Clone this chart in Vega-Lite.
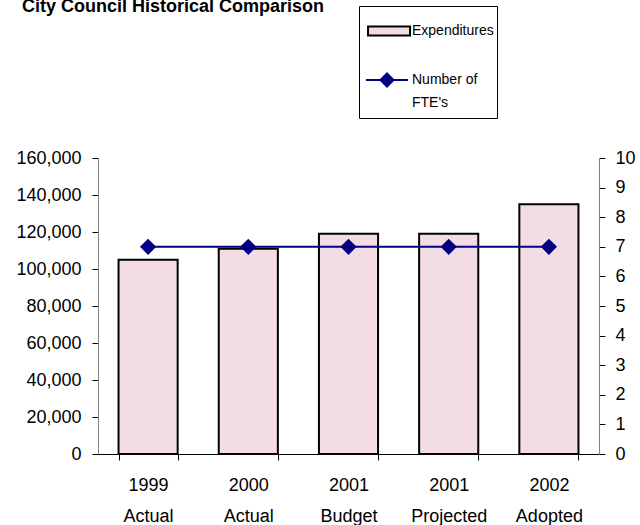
{
  "$schema": "https://vega.github.io/schema/vega-lite/v6.json",
  "autosize": "none",
  "width": 501,
  "height": 296,
  "padding": {"left": 98, "top": 158, "right": 41, "bottom": 71},
  "background": "white",
  "title": {
    "text": "City Council Historical Comparison",
    "anchor": "start",
    "frame": "group",
    "font": "Liberation Sans",
    "fontSize": 18,
    "fontWeight": "bold",
    "color": "black",
    "baseline": "alphabetic",
    "offset": -24,
    "dx": -76
  },
  "config": {
    "view": {"stroke": null},
    "font": "Liberation Sans",
    "style": {"guide-label": {"lineHeight": 23}},
    "axis": {
      "labelFont": "Liberation Sans",
      "labelFontSize": 18,
      "labelColor": "black",
      "tickColor": "black",
      "tickSize": 6,
      "grid": false,
      "title": null
    },
    "legend": {
      "labelFont": "Liberation Sans",
      "labelFontSize": 14,
      "labelColor": "black",
      "labelLimit": 200
    }
  },
  "data": {
    "values": [
      {"cat": "1999 Actual", "exp": 105000, "fte": 7},
      {"cat": "2000 Actual", "exp": 111000, "fte": 7},
      {"cat": "2001 Budget", "exp": 119000, "fte": 7},
      {"cat": "2001 Projected", "exp": 119000, "fte": 7},
      {"cat": "2002 Adopted", "exp": 135000, "fte": 7}
    ]
  },
  "encoding": {
    "x": {
      "field": "cat",
      "type": "nominal",
      "sort": null,
      "scale": {"paddingInner": 0.41, "paddingOuter": 0.205},
      "axis": {
        "labelAngle": 0,
        "tickBand": "extent",
        "labelExpr": "split(datum.label, ' ')",
        "labelLineHeight": 31,
        "labelPadding": 16,
        "domainColor": "black"
      }
    }
  },
  "layer": [
    {
      "mark": {"type": "bar", "stroke": "black", "strokeWidth": 2},
      "encoding": {
        "y": {
          "field": "exp",
          "type": "quantitative",
          "scale": {"domain": [0, 160000], "nice": false},
          "axis": {
            "values": [0, 20000, 40000, 60000, 80000, 100000, 120000, 140000, 160000],
            "format": ",d",
            "domainColor": "#808080",
            "labelPadding": 11,
            "orient": "left"
          }
        },
        "fill": {
          "datum": "Expenditures",
          "type": "nominal",
          "scale": {"range": ["#f3dce6"]},
          "legend": {
            "title": "\u00a0\u00a0\u00a0\u00a0\u00a0\u00a0\u00a0\u00a0\u00a0\u00a0\u00a0\u00a0\u00a0\u00a0\u00a0",
            "titleOrient": "bottom",
            "titleFontSize": 36,
            "titlePadding": 40,
            "titleLimit": 500,
            "orient": "none",
            "legendX": 261,
            "legendY": -152,
            "padding": 3,
            "strokeColor": "black",
            "fillColor": "white",
            "symbolType": "M-0.76,-0.22H1.24V0.22H-0.76Z",
            "symbolSize": 1764,
            "symbolStrokeColor": "black",
            "symbolStrokeWidth": 2,
            "labelOffset": 6
          }
        }
      }
    },
    {
      "encoding": {
        "y": {
          "field": "fte",
          "type": "quantitative",
          "scale": {"domain": [0, 10], "nice": false},
          "axis": {
            "orient": "right",
            "values": [0, 1, 2, 3, 4, 5, 6, 7, 8, 9, 10],
            "domainColor": "#808080",
            "labelPadding": 10
          }
        },
        "stroke": {
          "datum": "Number of FTE's",
          "type": "nominal",
          "scale": {"range": ["#000080"]},
          "legend": {
            "title": null,
            "orient": "none",
            "legendX": 267,
            "legendY": -100,
            "padding": 0,
            "symbolType": "M-1,0H1M0,-0.31L0.31,0L0,0.31L-0.31,0ZM0,-0.22L0.22,0L0,0.22L-0.22,0ZM0,-0.13L0.13,0L0,0.13L-0.13,0ZM0,-0.05L0.05,0L0,0.05L-0.05,0Z",
            "symbolSize": 1764,
            "symbolStrokeWidth": 2,
            "symbolFillColor": "#000080",
            "labelOffset": 3,
            "labelExpr": "['Number of', \"FTE's\"]"
          }
        }
      },
      "layer": [
        {"mark": {"type": "line", "strokeWidth": 2}},
        {"mark": {"type": "point", "shape": "diamond", "filled": true, "fill": "#000080", "size": 180, "opacity": 1}}
      ]
    }
  ],
  "resolve": {"scale": {"y": "independent"}}
}
